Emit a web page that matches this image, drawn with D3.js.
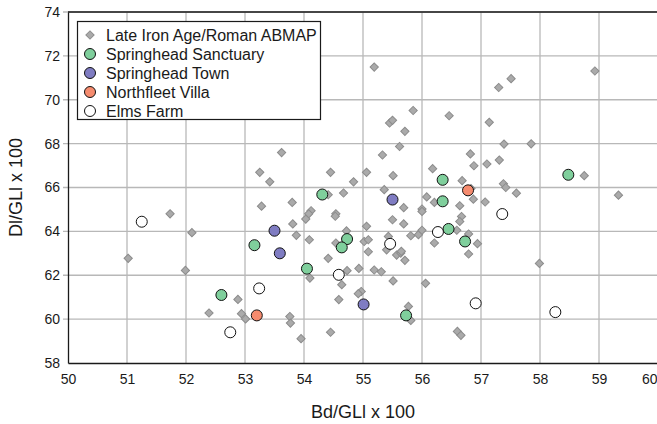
<!DOCTYPE html>
<html><head><meta charset="utf-8">
<script src="https://cdn.jsdelivr.net/npm/d3@7"></script>
<style>body{margin:0;background:#fff}svg{display:block}text{font-family:"Liberation Sans",Arial,sans-serif;fill:#1a1a1a}</style>
</head><body><svg id="c" width="657" height="424"></svg>
<script>
const xTicks=[50,51,52,53,54,55,56,57,58,59,60];
const yTicks=[58,60,62,64,66,68,70,72,74];
const seriesNames=["Late Iron Age/Roman ABMAP","Springhead Sanctuary","Springhead Town","Northfleet Villa","Elms Farm"];
const abmapX=[51.02,51.73,51.99,52.10,52.39,52.88,52.94,53.01,53.25,53.42,53.28,53.62,53.80,53.81,53.87,53.76,53.77,53.95,54.09,54.12,54.08,54.03,54.10,54.41,54.41,54.45,54.45,54.54,54.53,54.54,54.67,54.72,54.73,54.64,54.59,54.84,55.06,55.06,55.02,55.09,55.09,54.93,54.97,54.92,55.19,55.19,55.31,55.33,55.36,55.43,55.40,55.45,55.50,55.51,55.50,55.51,55.62,55.71,55.69,55.69,55.57,55.64,55.71,55.65,55.77,55.81,55.81,55.85,55.94,56.00,56.00,56.00,56.06,56.08,56.18,56.21,56.21,56.46,56.59,56.60,56.66,56.64,56.67,56.64,56.68,56.79,56.79,56.82,56.87,56.88,56.94,57.07,57.10,57.14,57.30,57.31,57.38,57.42,57.39,57.51,57.60,57.85,57.99,58.75,58.93,59.33,56.83];
const abmapY=[62.77,64.80,62.22,63.94,60.28,60.90,60.25,60.01,66.69,66.26,65.15,67.59,65.32,64.34,63.82,60.12,59.82,59.11,63.62,64.94,64.80,64.56,61.87,62.77,65.67,66.69,59.40,64.80,64.69,63.47,65.75,64.02,62.21,61.57,60.89,66.26,66.69,64.23,63.54,63.62,63.07,62.31,61.26,61.16,71.49,62.24,62.16,67.48,65.90,63.77,63.16,68.94,69.06,66.54,64.53,61.74,67.87,68.56,65.08,64.34,62.92,63.01,62.68,63.09,60.58,59.94,63.80,69.51,63.85,64.05,65.02,64.91,61.63,65.57,66.86,65.32,63.47,69.27,64.05,59.44,59.26,65.17,64.68,64.45,66.31,63.88,62.97,67.53,65.47,66.99,63.44,65.34,67.07,68.97,70.56,67.25,66.17,66.00,67.98,70.96,65.74,67.99,62.54,66.54,71.31,65.65,65.95];
const sanctX=[52.60,53.16,54.05,54.31,54.73,54.64,55.73,56.35,56.35,56.45,56.73,58.48];
const sanctY=[61.10,63.37,62.30,65.68,63.65,63.27,60.17,66.35,65.37,64.11,63.54,66.58];
const townX=[53.50,53.59,55.50,55.01];
const townY=[64.03,63.00,65.45,60.67];
const villaX=[53.20,56.78];
const villaY=[60.17,65.87];
const elmsX=[51.25,52.75,53.24,54.59,55.46,56.27,57.36,56.91,58.26];
const elmsY=[64.44,59.40,61.40,62.02,63.43,63.97,64.79,60.72,60.32];

const svg=d3.select("#c");
const L=68,R=658,T=12,B=363;
const x=d3.scaleLinear().domain([50,60]).range([L,R]);
const y=d3.scaleLinear().domain([58,74]).range([B,T]);
const grid="#b8b8b8";
svg.append("g").selectAll("line").data(xTicks.slice(1)).join("line")
 .attr("x1",d=>x(d)).attr("x2",d=>x(d)).attr("y1",T).attr("y2",B).attr("stroke",grid).attr("stroke-width",1.3);
svg.append("g").selectAll("line").data(yTicks.slice(1)).join("line")
 .attr("x1",L-5).attr("x2",R).attr("y1",d=>y(d)).attr("y2",d=>y(d)).attr("stroke",grid).attr("stroke-width",1.3);
const xa=svg.append("g").attr("transform",`translate(0,${B})`).call(d3.axisBottom(x).tickValues(xTicks).tickSize(0).tickPadding(11).tickFormat(d3.format("d")));
const ya=svg.append("g").attr("transform",`translate(${L},0)`).call(d3.axisLeft(y).tickValues(yTicks).tickSize(0).tickPadding(8).tickFormat(d3.format("d")));
[xa,ya].forEach(a=>{a.select(".domain").attr("stroke","#1a1a1a").attr("stroke-width",1.3);a.selectAll("text").attr("font-size",14).attr("font-family","Liberation Sans, Arial, sans-serif").attr("fill","#1a1a1a");});
xa.selectAll(".tick").filter(d=>d===60).select("text").attr("text-anchor","end").attr("x",-1);
svg.append("line").attr("x1",L).attr("x2",R).attr("y1",T).attr("y2",T).attr("stroke","#1a1a1a").attr("stroke-width",1.3);
svg.append("text").attr("x",363).attr("y",418).attr("text-anchor","middle").attr("font-size",18).text("Bd/GLl x 100");
svg.append("text").attr("transform",`translate(22,${(T+B)/2}) rotate(-90)`).attr("text-anchor","middle").attr("font-size",18).text("Dl/GLl x 100");
const diamond=d3.symbol().type(d3.symbolSquare).size(34);
const ab=abmapX.map((v,i)=>[v,abmapY[i]]);
svg.append("g").selectAll("path").data(ab).join("path")
 .attr("d",diamond).attr("transform",d=>`translate(${x(d[0])},${y(d[1])}) rotate(45)`)
 .attr("fill","#aaaaaa").attr("stroke","#8c8c8c").attr("stroke-width",1);
const circ=[
 {xs:sanctX,ys:sanctY,fill:"#7fcf9c"},
 {xs:townX,ys:townY,fill:"#7f7cc2"},
 {xs:villaX,ys:villaY,fill:"#f58b6e"},
 {xs:elmsX,ys:elmsY,fill:"#ffffff"}];
circ.forEach(s=>{
 svg.append("g").selectAll("circle").data(s.xs.map((v,i)=>[v,s.ys[i]])).join("circle")
  .attr("cx",d=>x(d[0])).attr("cy",d=>y(d[1])).attr("r",5.5)
  .attr("fill",s.fill).attr("stroke","#111").attr("stroke-width",1);
});
const lg=svg.append("g");
lg.append("rect").attr("x",77.5).attr("y",21.5).attr("width",243).attr("height",98).attr("fill","#fff").attr("stroke","#1a1a1a").attr("stroke-width",1.2);
const fills=["#aaaaaa","#7fcf9c","#7f7cc2","#f58b6e","#ffffff"];
seriesNames.forEach((n,i)=>{
 const cy=35+i*19;
 if(i===0){lg.append("path").attr("d",diamond).attr("transform",`translate(90,${cy}) rotate(45)`).attr("fill","#aaaaaa").attr("stroke","#8c8c8c");}
 else{lg.append("circle").attr("cx",90).attr("cy",cy).attr("r",5.5).attr("fill",fills[i]).attr("stroke","#111");}
 lg.append("text").attr("x",106).attr("y",cy+5.5).attr("font-size",16).text(n);
});
</script></body></html>
